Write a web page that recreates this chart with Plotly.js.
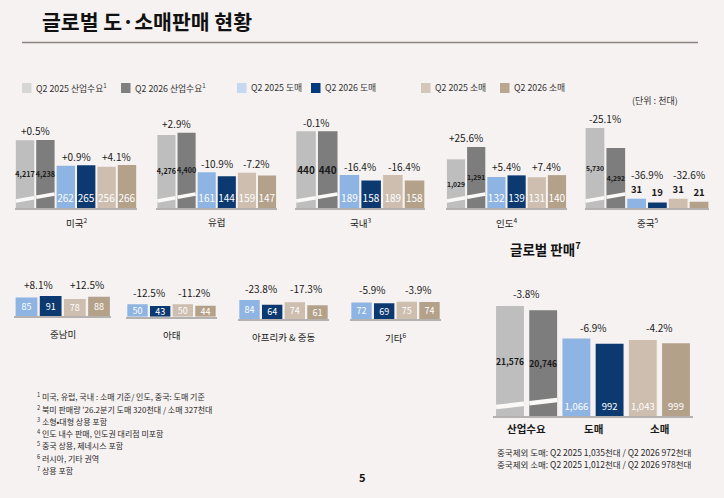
<!DOCTYPE html>
<html><head><meta charset="utf-8">
<script src="https://cdn.plot.ly/plotly-3.0.1.min.js"></script>
<style>html,body{margin:0;padding:0;background:#f6f2f1;}</style>
</head><body><div id="chart" style="width:724px;height:498px;"></div>
<script>
// ---------------- DATA ----------------
const seriesNames = ['Q2 2025 산업수요','Q2 2026 산업수요','Q2 2025 도매','Q2 2026 도매','Q2 2025 소매','Q2 2026 소매'];
const legendLabels = ['Q2 2025 산업수요<sup>1</sup>','Q2 2026 산업수요<sup>1</sup>','Q2 2025 도매','Q2 2026 도매','Q2 2025 소매','Q2 2026 소매'];

const topRegions = ['미국<sup>2</sup>','유럽','국내<sup>3</sup>','인도<sup>4</sup>','중국<sup>5</sup>'];
const topIndustry2025 = [4217, 4276, 440, 1029, 5730];
const topIndustry2026 = [4238, 4400, 440, 1291, 4292];
const topWholesale2025 = [262, 161, 189, 132, 31];
const topWholesale2026 = [265, 144, 158, 139, 19];
const topRetail2025 = [256, 159, 189, 131, 31];
const topRetail2026 = [266, 147, 158, 140, 21];
const topIndustryPct = ['+0.5%','+2.9%','-0.1%','+25.6%','-25.1%'];
const topWholesalePct = ['+0.9%','-10.9%','-16.4%','+5.4%','-36.9%'];
const topRetailPct = ['+4.1%','-7.2%','-16.4%','+7.4%','-32.6%'];

const bottomRegions = ['중남미','아태','아프리카 &amp; 중동','기타<sup>6</sup>'];
const bottomWholesale2025 = [85, 50, 84, 72];
const bottomWholesale2026 = [91, 43, 64, 69];
const bottomRetail2025 = [78, 50, 74, 75];
const bottomRetail2026 = [88, 44, 61, 74];
const bottomWholesalePct = ['+8.1%','-12.5%','-23.8%','-5.9%'];
const bottomRetailPct = ['+12.5%','-11.2%','-17.3%','-3.9%'];

const globalCategories = ['산업수요','도매','소매'];
const global2025 = [21576, 1066, 1043];
const global2026 = [20746, 992, 999];
const globalPct = ['-3.8%','-6.9%','-4.2%'];

const footnotes = [
  '<sup>1</sup> 미국, 유럽, 국내 : 소매 기준/ 인도, 중국: 도매 기준',
  '<sup>2</sup> 북미 판매량 \'26.2분기 도매 320천대 / 소매 327천대',
  '<sup>3</sup> 소형•대형 상용 포함',
  '<sup>4</sup> 인도 내수 판매, 인도권 대리점 미포함',
  '<sup>5</sup> 중국 상용, 제네시스 포함',
  '<sup>6</sup> 러시아, 기타 권역',
  '<sup>7</sup> 상용 포함'
];
const globalNotes = [
  '중국제외 도매: Q2 2025 1,035천대 / Q2 2026 972천대',
  '중국제외 소매: Q2 2025 1,012천대 / Q2 2026 978천대'
];

// ---------------- STYLE / LAYOUT ----------------
const barColors = ['#bebebe','#7d7d7d','#8db4e2','#0c3a70','#cdbeaf','#b4a18a'];
const legendColors = ['#d6d6d6','#808080','#c5d8f0','#003a7a','#d3c6ba','#b8a68f'];
const BG = '#f6f2f1';
const FONT = 'Noto Sans CJK KR, Noto Sans, sans-serif';
const W = 724, H = 498;
const fx = px => px / W;
const fy = py => 1 - py / H;

const layout = {
  width: W, height: H, margin: {l:0, r:0, t:0, b:0},
  paper_bgcolor: BG, plot_bgcolor: 'rgba(0,0,0,0)',
  showlegend: false, barmode: 'overlay',
  font: {family: FONT, color: '#1a1a1a'},
  annotations: [], shapes: []
};
const traces = [];
let xN = 0, yN = 0;

function addX(x0, x1, anchorY, n) {
  xN++;
  const cats = seriesNames.slice(6 - n);
  layout['xaxis' + xN] = {
    domain: [fx(x0), fx(x1)], anchor: 'y' + anchorY, type: 'category',
    categoryorder: 'array', categoryarray: cats, range: [-0.5, n - 0.5],
    showline: true, linecolor: '#b5b1ae', linewidth: 2, ticks: '', showticklabels: false,
    showgrid: false, zeroline: false, fixedrange: true
  };
  return xN;
}
function addY(base, top, max, xid, overlay) {
  yN++;
  const ax = {range: [0, max], visible: false, showgrid: false, zeroline: false, anchor: 'x' + xid, fixedrange: true};
  if (overlay) ax.overlaying = 'y' + overlay; else ax.domain = [fy(base), fy(top)];
  layout['yaxis' + yN] = ax;
  return yN;
}
function ann(o) { layout.annotations.push(Object.assign({showarrow: false}, o)); }
function stripe(xid, yid, bw, h, lo, hi, widthPx) {
  // decorative axis-break band across the two industry bars
  const xl = -bw / 2, xr = 1 + bw / 2;
  const yAt = x => (lo + (hi - lo) * (x - xl) / (xr - xl)) / h;
  [[xl, bw / 2], [1 - bw / 2, xr]].forEach(([a, b]) => {
    layout.shapes.push({type: 'line', xref: 'x' + xid, yref: 'y' + yid + ' domain',
      x0: a, x1: b, y0: yAt(a), y1: yAt(b), line: {color: '#fbf9f8', width: widthPx}});
  });
}
function barTrace(o) {
  return Object.assign({type: 'bar', textangle: 0, constraintext: 'none', cliponaxis: false,
    texttemplate: '%{y:,}', hoverinfo: 'skip'}, o);
}

// ---- top row panels ----
const topSpec = [
  {x0: 14.8, x1: 137.2, ind: 6720, wr: 670, f: 7.2},
  {x0: 156.4, x1: 277.1, ind: 6320, wr: 488, f: 7.2},
  {x0: 295.2, x1: 425.4, ind: 620, wr: 620, f: 10},
  {x0: 445.9, x1: 567.1, ind: 2285, wr: 460, f: 6.8},
  {x0: 584.6, x1: 709.4, ind: 7730, wr: 365, f: 6.8, out: true}
];
const TOP_BASE = 208, TOP_TOP = 100;
topRegions.forEach((name, i) => {
  const s = topSpec[i];
  const x = addX(s.x0, s.x1, yN + 1, 6);
  const yw = addY(TOP_BASE, TOP_TOP, s.wr, x);
  const yi = addY(0, 0, s.ind, x, yw);
  const indVals = [topIndustry2025[i], topIndustry2026[i]];
  const wrVals = [topWholesale2025[i], topWholesale2026[i], topRetail2025[i], topRetail2026[i]];
  traces.push(barTrace({x: seriesNames.slice(0, 2), y: indVals, xaxis: 'x' + x, yaxis: 'y' + yi,
    width: 0.9, marker: {color: barColors.slice(0, 2), line: {width: 0}},
    textposition: 'inside', insidetextanchor: 'middle',
    textfont: {size: s.f, color: '#1a1a1a', weight: 'bold', family: FONT}}));
  traces.push(barTrace({x: seriesNames.slice(2), y: wrVals, xaxis: 'x' + x, yaxis: 'y' + yw,
    width: 0.9, marker: {color: barColors.slice(2), line: {width: 0}},
    textposition: s.out ? 'outside' : 'inside', insidetextanchor: 'start',
    textfont: {size: s.out ? 9.5 : 10, color: s.out ? '#1a1a1a' : '#ffffff', weight: s.out ? 'bold' : 'normal', family: FONT}}));
  stripe(x, yw, 0.9, TOP_BASE - TOP_TOP, 7, 14, 3.5);
  ann({xref: 'x' + x, yref: 'y' + yi, x: 0.5, y: Math.max(...indVals), yanchor: 'middle', yshift: 9,
    text: topIndustryPct[i], font: {size: 10, color: '#1a1a1a'}});
  const wrTop = Math.max(...wrVals);
  const extra = s.out ? 15 : 0;
  ann({xref: 'x' + x, yref: 'y' + yw, x: 2.5, y: wrTop, yanchor: 'middle', yshift: 9 + extra,
    text: topWholesalePct[i], font: {size: 10, color: '#1a1a1a'}});
  ann({xref: 'x' + x, yref: 'y' + yw, x: 4.5, y: wrTop, yanchor: 'middle', yshift: 9 + extra,
    text: topRetailPct[i], font: {size: 10, color: '#1a1a1a'}});
  ann({xref: 'x' + x + ' domain', yref: 'y' + yw + ' domain', x: 0.5, y: 0, yanchor: 'top', yshift: -5,
    text: name, font: {size: 9.5, color: '#1a1a1a'}});
});

// ---- bottom row panels ----
const bottomSpec = [
  {x0: 14.4, x1: 111.1, base: 316, max: 274},
  {x0: 126.2, x1: 216.8, base: 316.7, max: 240},
  {x0: 238.2, x1: 328.8, base: 319.3, max: 262},
  {x0: 350.2, x1: 440.8, base: 319.3, max: 258}
];
bottomRegions.forEach((name, i) => {
  const s = bottomSpec[i];
  const x = addX(s.x0, s.x1, yN + 1, 4);
  const y = addY(s.base, s.base - 60, s.max, x);
  const vals = [bottomWholesale2025[i], bottomWholesale2026[i], bottomRetail2025[i], bottomRetail2026[i]];
  traces.push(barTrace({x: seriesNames.slice(2), y: vals, xaxis: 'x' + x, yaxis: 'y' + y,
    width: 0.9, marker: {color: barColors.slice(2), line: {width: 0}},
    textposition: 'inside', insidetextanchor: 'middle',
    textfont: {size: 9, color: '#ffffff', family: FONT}}));
  const top = Math.max(...vals);
  ann({xref: 'x' + x, yref: 'y' + y, x: 0.5, y: top, yanchor: 'middle', yshift: 12,
    text: bottomWholesalePct[i], font: {size: 10, color: '#1a1a1a'}});
  ann({xref: 'x' + x, yref: 'y' + y, x: 2.5, y: top, yanchor: 'middle', yshift: 12,
    text: bottomRetailPct[i], font: {size: 10, color: '#1a1a1a'}});
  ann({xref: 'x' + x + ' domain', yref: 'y' + y + ' domain', x: 0.5, y: 0, yanchor: 'top', yshift: -9,
    text: name, font: {size: 9.5, color: '#1a1a1a'}});
});

// ---- global panel ----
(function () {
  const base = 416, top = 290;
  const x = addX(493.4, 692.6, yN + 1, 6);
  const yw = addY(base, top, 1731, x);
  const yi = addY(0, 0, 24720, x, yw);
  traces.push(barTrace({x: seriesNames.slice(0, 2), y: [global2025[0], global2026[0]], xaxis: 'x' + x, yaxis: 'y' + yi,
    width: 0.84, marker: {color: barColors.slice(0, 2), line: {width: 0}},
    textposition: 'inside', insidetextanchor: 'middle',
    textfont: {size: 8.5, color: '#1a1a1a', weight: 'bold', family: FONT}}));
  traces.push(barTrace({x: seriesNames.slice(2), y: [global2025[1], global2026[1], global2025[2], global2026[2]],
    xaxis: 'x' + x, yaxis: 'y' + yw,
    width: 0.84, marker: {color: barColors.slice(2), line: {width: 0}},
    textposition: 'inside', insidetextanchor: 'start',
    textfont: {size: 9.5, color: '#ffffff', family: FONT}}));
  stripe(x, yw, 0.84, base - top, 9, 16, 4.5);
  ann({xref: 'x' + x, yref: 'y' + yi, x: 0.5, y: Math.max(global2025[0], global2026[0]), yanchor: 'middle', yshift: 13,
    text: globalPct[0], font: {size: 10, color: '#1a1a1a'}});
  const wrTop = Math.max(global2025[1], global2026[1], global2025[2], global2026[2]);
  [1, 2].forEach(k => ann({xref: 'x' + x, yref: 'y' + yw, x: 2 * k + 0.5, y: wrTop, yanchor: 'middle', yshift: 11,
    text: globalPct[k], font: {size: 10, color: '#1a1a1a'}}));
  globalCategories.forEach((c, k) => ann({xref: 'x' + x, yref: 'y' + yw + ' domain', x: 2 * k + 0.5, y: 0,
    yanchor: 'top', yshift: -3, text: c, font: {size: 10.5, color: '#1a1a1a', weight: 'bold'}}));
})();

// ---- page texts ----
ann({xref: 'paper', yref: 'paper', x: fx(40), y: fy(21), xanchor: 'left', yanchor: 'middle',
  text: '글로벌 도·소매판매 현황', font: {size: 20.5, color: '#111111', weight: 'bold'}});
layout.shapes.push({type: 'line', xref: 'paper', yref: 'paper', x0: fx(22), x1: fx(698), y0: fy(42.5), y1: fy(42.5),
  line: {color: '#8c847f', width: 1.5}});
const legendX = [22, 121, 237, 311, 421, 500];
legendLabels.forEach((t, i) => {
  layout.shapes.push({type: 'rect', xref: 'paper', yref: 'paper', x0: fx(legendX[i]), x1: fx(legendX[i] + 9.5),
    y0: fy(93), y1: fy(83), fillcolor: legendColors[i], line: {width: 0}});
  ann({xref: 'paper', yref: 'paper', x: fx(legendX[i] + 12), y: fy(88), xanchor: 'left', yanchor: 'middle',
    text: t, font: {size: 8.8, color: '#333333'}});
});
ann({xref: 'paper', yref: 'paper', x: fx(630), y: fy(101), xanchor: 'left', yanchor: 'middle',
  text: '(단위 : 천대)', font: {size: 9, color: '#333333'}});
footnotes.forEach((t, i) => ann({xref: 'paper', yref: 'paper', x: fx(35), y: fy(396.7 + i * 12.3),
  xanchor: 'left', yanchor: 'middle', text: t, font: {size: 8, color: '#2a2a2a'}}));
ann({xref: 'paper', yref: 'paper', x: fx(508), y: fy(248), xanchor: 'left', yanchor: 'middle',
  text: '글로벌 판매<sup>7</sup>', font: {size: 13.5, color: '#111111', weight: 'bold'}});
globalNotes.forEach((t, i) => ann({xref: 'paper', yref: 'paper', x: fx(495), y: fy(451.5 + i * 12),
  xanchor: 'left', yanchor: 'middle', text: t, font: {size: 8.5, color: '#2a2a2a'}}));
ann({xref: 'paper', yref: 'paper', x: fx(362), y: fy(477), xanchor: 'center', yanchor: 'middle',
  text: '5', font: {size: 11, color: '#111111', weight: 'bold'}});

Plotly.newPlot('chart', traces, layout, {staticPlot: true, displayModeBar: false});
</script></body></html>
